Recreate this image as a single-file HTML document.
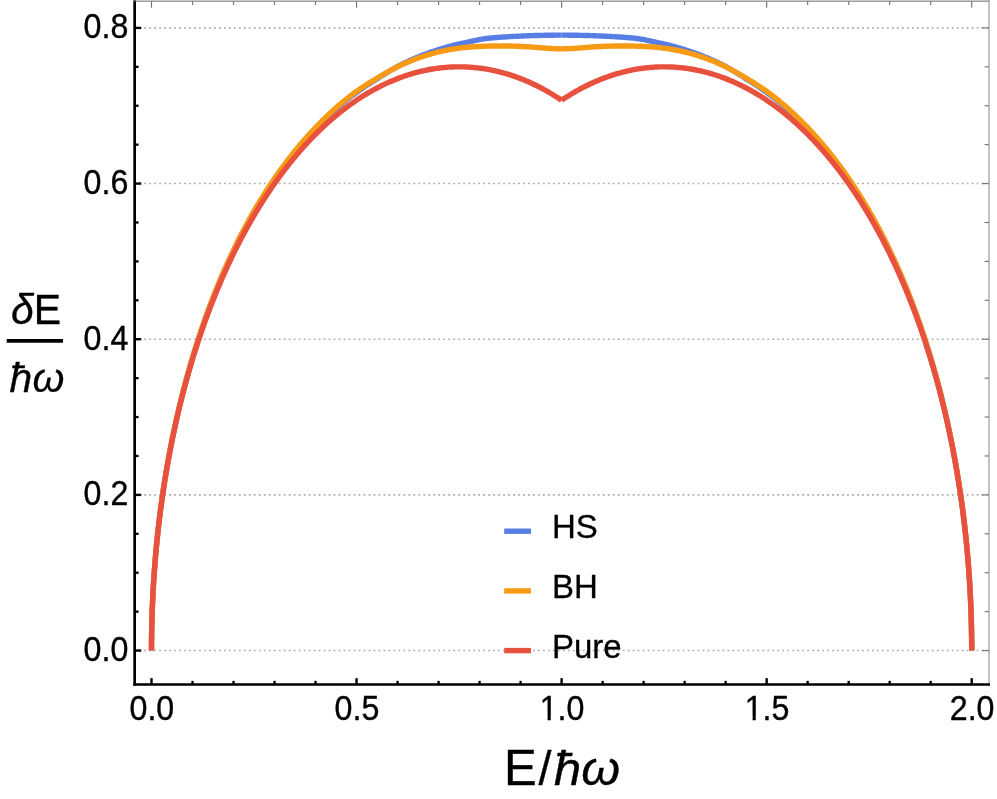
<!DOCTYPE html>
<html><head><meta charset="utf-8"><title>Plot</title>
<style>
html,body{margin:0;padding:0;background:#fff;}
body{width:997px;height:799px;overflow:hidden;font-family:"Liberation Sans",sans-serif;}
svg{display:block;}
</style></head><body>
<svg width="997" height="799" viewBox="0 0 997 799">
<rect width="997" height="799" fill="#fff"/>
<line x1="139.22" y1="650.55" x2="988" y2="650.55" stroke="#adadad" stroke-width="1.6" stroke-dasharray="1.8 3.185"/>
<line x1="139.22" y1="494.89" x2="988" y2="494.89" stroke="#adadad" stroke-width="1.6" stroke-dasharray="1.8 3.185"/>
<line x1="139.22" y1="339.23" x2="988" y2="339.23" stroke="#adadad" stroke-width="1.6" stroke-dasharray="1.8 3.185"/>
<line x1="139.22" y1="183.57" x2="988" y2="183.57" stroke="#adadad" stroke-width="1.6" stroke-dasharray="1.8 3.185"/>
<line x1="139.22" y1="27.91" x2="988" y2="27.91" stroke="#adadad" stroke-width="1.6" stroke-dasharray="1.8 3.185"/>
<path d="M151.50,650.55 L151.50,648.64 L151.51,646.73 L151.51,644.82 L151.53,642.91 L151.54,641.00 L151.56,639.09 L151.58,637.18 L151.61,635.27 L151.63,633.35 L151.66,631.44 L151.70,629.53 L151.74,627.62 L151.78,625.71 L151.82,623.80 L151.87,621.89 L151.92,619.98 L151.98,618.07 L152.03,616.16 L152.09,614.25 L152.16,612.34 L152.23,610.43 L152.30,608.52 L152.37,606.61 L152.45,604.71 L152.53,602.80 L152.61,600.89 L152.70,598.98 L152.79,597.07 L152.89,595.17 L152.98,593.26 L153.08,591.35 L153.19,589.45 L153.29,587.54 L153.40,585.64 L153.52,583.73 L153.63,581.83 L153.75,579.92 L153.88,578.02 L154.01,576.11 L154.14,574.21 L154.27,572.31 L154.41,570.41 L154.55,568.51 L154.69,566.61 L154.84,564.71 L154.99,562.81 L155.14,560.91 L155.29,559.01 L155.45,557.11 L155.62,555.21 L155.78,553.32 L155.95,551.42 L156.13,549.53 L156.30,547.63 L156.48,545.74 L156.66,543.85 L156.85,541.95 L157.04,540.06 L157.23,538.17 L157.43,536.28 L157.63,534.39 L157.83,532.50 L158.04,530.62 L158.25,528.73 L158.46,526.84 L158.67,524.96 L158.89,523.08 L159.12,521.19 L159.34,519.31 L159.57,517.43 L159.80,515.55 L160.04,513.67 L160.28,511.79 L160.52,509.92 L160.76,508.04 L161.01,506.16 L161.26,504.29 L161.52,502.42 L161.78,500.55 L162.04,498.67 L162.31,496.81 L162.57,494.94 L162.85,493.07 L163.12,491.20 L163.40,489.34 L163.68,487.47 L163.97,485.61 L164.25,483.75 L164.55,481.89 L164.84,480.03 L165.14,478.18 L165.44,476.32 L165.74,474.46 L166.05,472.61 L166.36,470.76 L166.68,468.91 L167.00,467.06 L167.32,465.21 L167.64,463.36 L167.97,461.52 L168.30,459.68 L168.64,457.83 L168.97,455.99 L169.31,454.15 L169.66,452.32 L170.01,450.48 L170.36,448.64 L170.71,446.81 L171.07,444.98 L171.43,443.15 L171.79,441.32 L172.16,439.49 L172.53,437.67 L172.90,435.85 L173.28,434.02 L173.66,432.20 L174.05,430.39 L174.43,428.57 L174.82,426.75 L175.22,424.94 L175.61,423.13 L176.01,421.32 L176.42,419.51 L176.82,417.71 L177.23,415.90 L177.65,414.10 L178.06,412.30 L178.48,410.50 L178.91,408.71 L179.33,406.91 L179.76,405.12 L180.20,403.33 L180.63,401.54 L181.07,399.75 L181.52,397.97 L181.96,396.19 L182.41,394.40 L182.87,392.63 L183.32,390.85 L183.78,389.08 L184.24,387.30 L184.71,385.53 L185.18,383.77 L185.65,382.00 L186.13,380.24 L186.61,378.47 L187.09,376.72 L187.58,374.96 L188.06,373.20 L188.56,371.45 L189.05,369.70 L189.55,367.95 L190.05,366.21 L190.56,364.46 L191.07,362.72 L191.58,360.99 L192.10,359.25 L192.62,357.52 L193.14,355.79 L193.66,354.06 L194.19,352.33 L194.72,350.61 L195.26,348.88 L195.80,347.17 L196.34,345.45 L196.88,343.74 L197.43,342.02 L197.98,340.31 L198.54,338.61 L199.10,336.90 L199.66,335.20 L200.22,333.51 L200.79,331.81 L201.36,330.12 L201.94,328.43 L202.52,326.74 L203.10,325.05 L203.68,323.37 L204.27,321.69 L204.86,320.01 L205.46,318.34 L206.05,316.67 L206.66,315.00 L207.26,313.34 L207.87,311.67 L208.48,310.02 L209.09,308.36 L209.71,306.71 L210.33,305.06 L210.96,303.41 L211.58,301.76 L212.21,300.12 L212.85,298.48 L213.49,296.85 L214.13,295.22 L214.77,293.59 L215.42,291.96 L216.07,290.34 L216.72,288.72 L217.38,287.11 L218.04,285.49 L218.70,283.88 L219.37,282.28 L220.04,280.68 L220.71,279.08 L221.39,277.48 L222.07,275.89 L222.76,274.30 L223.44,272.72 L224.13,271.14 L224.83,269.56 L225.52,267.98 L226.22,266.41 L226.93,264.85 L227.63,263.28 L228.34,261.72 L229.05,260.17 L229.77,258.61 L230.49,257.07 L231.21,255.52 L231.94,253.98 L232.67,252.44 L233.40,250.91 L234.14,249.38 L234.88,247.86 L235.62,246.34 L236.37,244.82 L237.12,243.31 L237.87,241.80 L238.63,240.29 L239.38,238.79 L240.15,237.29 L240.91,235.80 L241.68,234.31 L242.45,232.83 L243.23,231.35 L244.01,229.87 L244.79,228.40 L245.58,226.93 L246.37,225.47 L247.16,224.01 L247.95,222.55 L248.75,221.10 L249.55,219.65 L250.36,218.21 L251.17,216.77 L251.98,215.34 L252.80,213.91 L253.61,212.49 L254.44,211.07 L255.26,209.65 L256.09,208.24 L256.92,206.83 L257.76,205.43 L258.59,204.03 L259.44,202.64 L260.28,201.25 L261.13,199.86 L261.98,198.48 L262.84,197.11 L263.69,195.74 L264.56,194.37 L265.42,193.01 L266.29,191.65 L267.16,190.30 L268.03,188.95 L268.91,187.61 L269.79,186.27 L270.68,184.93 L271.56,183.61 L272.46,182.28 L273.35,180.96 L274.25,179.65 L275.15,178.34 L276.05,177.03 L276.96,175.73 L277.87,174.44 L278.79,173.15 L279.70,171.86 L280.62,170.58 L281.55,169.31 L282.47,168.04 L283.41,166.78 L284.34,165.52 L285.28,164.27 L286.22,163.02 L287.16,161.78 L288.11,160.55 L289.06,159.32 L290.01,158.09 L290.97,156.87 L291.93,155.66 L292.89,154.45 L293.86,153.25 L294.83,152.05 L295.80,150.86 L296.78,149.67 L297.76,148.49 L298.74,147.31 L299.73,146.14 L300.72,144.98 L301.71,143.82 L302.71,142.67 L303.71,141.52 L304.71,140.37 L305.72,139.24 L306.73,138.11 L307.74,136.98 L308.76,135.86 L309.77,134.74 L310.80,133.64 L311.82,132.53 L312.85,131.43 L313.89,130.34 L314.92,129.25 L315.96,128.17 L317.00,127.09 L318.05,126.02 L319.10,124.95 L320.15,123.89 L321.21,122.83 L322.27,121.78 L323.33,120.73 L324.39,119.69 L325.46,118.66 L326.53,117.63 L327.61,116.60 L328.69,115.58 L329.77,114.57 L330.86,113.57 L331.94,112.57 L333.04,111.57 L334.13,110.58 L335.23,109.60 L336.33,108.62 L337.44,107.66 L338.55,106.69 L339.66,105.74 L340.77,104.79 L341.89,103.84 L343.01,102.91 L344.14,101.98 L345.27,101.06 L346.40,100.15 L347.53,99.24 L348.67,98.34 L349.81,97.45 L350.96,96.57 L352.10,95.70 L353.26,94.83 L354.41,93.97 L355.57,93.12 L356.73,92.28 L357.89,91.45 L359.06,90.62 L360.23,89.80 L361.41,88.98 L362.58,88.18 L363.76,87.38 L364.95,86.58 L366.14,85.79 L367.33,85.01 L368.52,84.24 L369.72,83.47 L370.92,82.70 L372.12,81.93 L373.33,81.17 L374.54,80.40 L375.75,79.64 L376.97,78.87 L378.19,78.10 L379.42,77.33 L380.64,76.55 L381.87,75.78 L383.11,75.00 L384.34,74.23 L385.58,73.47 L386.83,72.71 L388.07,71.95 L389.32,71.21 L390.58,70.47 L391.83,69.74 L393.09,69.01 L394.36,68.30 L395.62,67.60 L396.89,66.91 L398.17,66.22 L399.44,65.55 L400.72,64.89 L402.01,64.24 L403.29,63.60 L404.58,62.97 L405.87,62.35 L407.17,61.74 L408.47,61.14 L409.77,60.55 L411.08,59.97 L412.39,59.39 L413.70,58.83 L415.02,58.27 L416.34,57.72 L417.66,57.18 L418.98,56.64 L420.31,56.12 L421.65,55.60 L422.98,55.08 L424.32,54.57 L425.66,54.07 L427.01,53.58 L428.36,53.09 L429.71,52.61 L431.07,52.13 L432.42,51.66 L433.79,51.20 L435.15,50.74 L436.52,50.29 L437.89,49.85 L439.27,49.41 L440.65,48.98 L442.03,48.55 L443.41,48.14 L444.80,47.73 L446.19,47.33 L447.59,46.93 L448.99,46.55 L450.39,46.17 L451.79,45.80 L453.20,45.44 L454.61,45.08 L456.03,44.74 L457.44,44.40 L458.87,44.07 L460.29,43.75 L461.72,43.44 L463.15,43.13 L464.58,42.83 L466.02,42.52 L467.46,42.21 L468.91,41.90 L470.36,41.57 L471.81,41.25 L473.26,40.92 L474.72,40.59 L476.18,40.27 L477.64,39.97 L479.11,39.67 L480.58,39.40 L482.06,39.15 L483.53,38.92 L485.01,38.70 L486.50,38.50 L487.98,38.32 L489.48,38.15 L490.97,38.00 L492.47,37.85 L493.97,37.72 L495.47,37.59 L496.98,37.48 L498.49,37.36 L500.00,37.26 L501.52,37.15 L503.04,37.05 L504.56,36.95 L506.09,36.85 L507.62,36.76 L509.15,36.67 L510.69,36.58 L512.23,36.50 L513.77,36.42 L515.32,36.34 L516.87,36.26 L518.42,36.18 L519.98,36.11 L521.54,36.04 L523.10,35.97 L524.67,35.91 L526.24,35.84 L527.81,35.78 L529.39,35.73 L530.96,35.67 L532.55,35.62 L534.13,35.57 L535.72,35.52 L537.32,35.48 L538.91,35.43 L540.51,35.40 L542.11,35.36 L543.72,35.33 L545.33,35.29 L546.94,35.27 L548.56,35.24 L550.17,35.22 L551.80,35.20 L553.42,35.19 L555.05,35.17 L556.68,35.16 L558.32,35.15 L559.96,35.15 L561.60,35.15" fill="none" stroke="#587de5" stroke-width="5.4" stroke-linejoin="round" stroke-linecap="butt"/>
<path d="M561.60,35.15 L563.24,35.15 L564.88,35.15 L566.52,35.16 L568.15,35.17 L569.78,35.19 L571.40,35.20 L573.03,35.22 L574.64,35.24 L576.26,35.27 L577.87,35.29 L579.48,35.33 L581.09,35.36 L582.69,35.40 L584.29,35.43 L585.88,35.48 L587.48,35.52 L589.07,35.57 L590.65,35.62 L592.24,35.67 L593.81,35.73 L595.39,35.78 L596.96,35.84 L598.53,35.91 L600.10,35.97 L601.66,36.04 L603.22,36.11 L604.78,36.18 L606.33,36.26 L607.88,36.34 L609.43,36.42 L610.97,36.50 L612.51,36.58 L614.05,36.67 L615.58,36.76 L617.11,36.85 L618.64,36.95 L620.16,37.05 L621.68,37.15 L623.20,37.26 L624.71,37.36 L626.22,37.48 L627.73,37.59 L629.23,37.72 L630.73,37.85 L632.23,38.00 L633.72,38.15 L635.22,38.32 L636.70,38.50 L638.19,38.70 L639.67,38.92 L641.14,39.15 L642.62,39.40 L644.09,39.67 L645.56,39.97 L647.02,40.27 L648.48,40.59 L649.94,40.92 L651.39,41.25 L652.84,41.57 L654.29,41.90 L655.74,42.21 L657.18,42.52 L658.62,42.83 L660.05,43.13 L661.48,43.44 L662.91,43.75 L664.33,44.07 L665.76,44.40 L667.17,44.74 L668.59,45.08 L670.00,45.44 L671.41,45.80 L672.81,46.17 L674.21,46.55 L675.61,46.93 L677.01,47.33 L678.40,47.73 L679.79,48.14 L681.17,48.55 L682.55,48.98 L683.93,49.41 L685.31,49.85 L686.68,50.29 L688.05,50.74 L689.41,51.20 L690.78,51.66 L692.13,52.13 L693.49,52.61 L694.84,53.09 L696.19,53.58 L697.54,54.07 L698.88,54.57 L700.22,55.08 L701.55,55.60 L702.89,56.12 L704.22,56.64 L705.54,57.18 L706.86,57.72 L708.18,58.27 L709.50,58.83 L710.81,59.39 L712.12,59.97 L713.43,60.55 L714.73,61.14 L716.03,61.74 L717.33,62.35 L718.62,62.97 L719.91,63.60 L721.19,64.24 L722.48,64.89 L723.76,65.55 L725.03,66.22 L726.31,66.91 L727.58,67.60 L728.84,68.30 L730.11,69.01 L731.37,69.74 L732.62,70.47 L733.88,71.21 L735.13,71.95 L736.37,72.71 L737.62,73.47 L738.86,74.23 L740.09,75.00 L741.33,75.78 L742.56,76.55 L743.78,77.33 L745.01,78.10 L746.23,78.87 L747.45,79.64 L748.66,80.40 L749.87,81.17 L751.08,81.93 L752.28,82.70 L753.48,83.47 L754.68,84.24 L755.87,85.01 L757.06,85.79 L758.25,86.58 L759.44,87.38 L760.62,88.18 L761.79,88.98 L762.97,89.80 L764.14,90.62 L765.31,91.45 L766.47,92.28 L767.63,93.12 L768.79,93.97 L769.94,94.83 L771.10,95.70 L772.24,96.57 L773.39,97.45 L774.53,98.34 L775.67,99.24 L776.80,100.15 L777.93,101.06 L779.06,101.98 L780.19,102.91 L781.31,103.84 L782.43,104.79 L783.54,105.74 L784.65,106.69 L785.76,107.66 L786.87,108.62 L787.97,109.60 L789.07,110.58 L790.16,111.57 L791.26,112.57 L792.34,113.57 L793.43,114.57 L794.51,115.58 L795.59,116.60 L796.67,117.63 L797.74,118.66 L798.81,119.69 L799.87,120.73 L800.93,121.78 L801.99,122.83 L803.05,123.89 L804.10,124.95 L805.15,126.02 L806.20,127.09 L807.24,128.17 L808.28,129.25 L809.31,130.34 L810.35,131.43 L811.38,132.53 L812.40,133.64 L813.43,134.74 L814.44,135.86 L815.46,136.98 L816.47,138.11 L817.48,139.24 L818.49,140.37 L819.49,141.52 L820.49,142.67 L821.49,143.82 L822.48,144.98 L823.47,146.14 L824.46,147.31 L825.44,148.49 L826.42,149.67 L827.40,150.86 L828.37,152.05 L829.34,153.25 L830.31,154.45 L831.27,155.66 L832.23,156.87 L833.19,158.09 L834.14,159.32 L835.09,160.55 L836.04,161.78 L836.98,163.02 L837.92,164.27 L838.86,165.52 L839.79,166.78 L840.73,168.04 L841.65,169.31 L842.58,170.58 L843.50,171.86 L844.41,173.15 L845.33,174.44 L846.24,175.73 L847.15,177.03 L848.05,178.34 L848.95,179.65 L849.85,180.96 L850.74,182.28 L851.64,183.61 L852.52,184.93 L853.41,186.27 L854.29,187.61 L855.17,188.95 L856.04,190.30 L856.91,191.65 L857.78,193.01 L858.64,194.37 L859.51,195.74 L860.36,197.11 L861.22,198.48 L862.07,199.86 L862.92,201.25 L863.76,202.64 L864.61,204.03 L865.44,205.43 L866.28,206.83 L867.11,208.24 L867.94,209.65 L868.76,211.07 L869.59,212.49 L870.40,213.91 L871.22,215.34 L872.03,216.77 L872.84,218.21 L873.65,219.65 L874.45,221.10 L875.25,222.55 L876.04,224.01 L876.83,225.47 L877.62,226.93 L878.41,228.40 L879.19,229.87 L879.97,231.35 L880.75,232.83 L881.52,234.31 L882.29,235.80 L883.05,237.29 L883.82,238.79 L884.57,240.29 L885.33,241.80 L886.08,243.31 L886.83,244.82 L887.58,246.34 L888.32,247.86 L889.06,249.38 L889.80,250.91 L890.53,252.44 L891.26,253.98 L891.99,255.52 L892.71,257.07 L893.43,258.61 L894.15,260.17 L894.86,261.72 L895.57,263.28 L896.27,264.85 L896.98,266.41 L897.68,267.98 L898.37,269.56 L899.07,271.14 L899.76,272.72 L900.44,274.30 L901.13,275.89 L901.81,277.48 L902.49,279.08 L903.16,280.68 L903.83,282.28 L904.50,283.88 L905.16,285.49 L905.82,287.11 L906.48,288.72 L907.13,290.34 L907.78,291.96 L908.43,293.59 L909.07,295.22 L909.71,296.85 L910.35,298.48 L910.99,300.12 L911.62,301.76 L912.24,303.41 L912.87,305.06 L913.49,306.71 L914.11,308.36 L914.72,310.02 L915.33,311.67 L915.94,313.34 L916.54,315.00 L917.15,316.67 L917.74,318.34 L918.34,320.01 L918.93,321.69 L919.52,323.37 L920.10,325.05 L920.68,326.74 L921.26,328.43 L921.84,330.12 L922.41,331.81 L922.98,333.51 L923.54,335.20 L924.10,336.90 L924.66,338.61 L925.22,340.31 L925.77,342.02 L926.32,343.74 L926.86,345.45 L927.40,347.17 L927.94,348.88 L928.48,350.61 L929.01,352.33 L929.54,354.06 L930.06,355.79 L930.58,357.52 L931.10,359.25 L931.62,360.99 L932.13,362.72 L932.64,364.46 L933.15,366.21 L933.65,367.95 L934.15,369.70 L934.64,371.45 L935.14,373.20 L935.62,374.96 L936.11,376.72 L936.59,378.47 L937.07,380.24 L937.55,382.00 L938.02,383.77 L938.49,385.53 L938.96,387.30 L939.42,389.08 L939.88,390.85 L940.33,392.63 L940.79,394.40 L941.24,396.19 L941.68,397.97 L942.13,399.75 L942.57,401.54 L943.00,403.33 L943.44,405.12 L943.87,406.91 L944.29,408.71 L944.72,410.50 L945.14,412.30 L945.55,414.10 L945.97,415.90 L946.38,417.71 L946.78,419.51 L947.19,421.32 L947.59,423.13 L947.98,424.94 L948.38,426.75 L948.77,428.57 L949.15,430.39 L949.54,432.20 L949.92,434.02 L950.30,435.85 L950.67,437.67 L951.04,439.49 L951.41,441.32 L951.77,443.15 L952.13,444.98 L952.49,446.81 L952.84,448.64 L953.19,450.48 L953.54,452.32 L953.89,454.15 L954.23,455.99 L954.56,457.83 L954.90,459.68 L955.23,461.52 L955.56,463.36 L955.88,465.21 L956.20,467.06 L956.52,468.91 L956.84,470.76 L957.15,472.61 L957.46,474.46 L957.76,476.32 L958.06,478.18 L958.36,480.03 L958.65,481.89 L958.95,483.75 L959.23,485.61 L959.52,487.47 L959.80,489.34 L960.08,491.20 L960.35,493.07 L960.63,494.94 L960.89,496.81 L961.16,498.67 L961.42,500.55 L961.68,502.42 L961.94,504.29 L962.19,506.16 L962.44,508.04 L962.68,509.92 L962.92,511.79 L963.16,513.67 L963.40,515.55 L963.63,517.43 L963.86,519.31 L964.08,521.19 L964.31,523.08 L964.53,524.96 L964.74,526.84 L964.95,528.73 L965.16,530.62 L965.37,532.50 L965.57,534.39 L965.77,536.28 L965.97,538.17 L966.16,540.06 L966.35,541.95 L966.54,543.85 L966.72,545.74 L966.90,547.63 L967.07,549.53 L967.25,551.42 L967.42,553.32 L967.58,555.21 L967.75,557.11 L967.91,559.01 L968.06,560.91 L968.21,562.81 L968.36,564.71 L968.51,566.61 L968.65,568.51 L968.79,570.41 L968.93,572.31 L969.06,574.21 L969.19,576.11 L969.32,578.02 L969.45,579.92 L969.57,581.83 L969.68,583.73 L969.80,585.64 L969.91,587.54 L970.01,589.45 L970.12,591.35 L970.22,593.26 L970.31,595.17 L970.41,597.07 L970.50,598.98 L970.59,600.89 L970.67,602.80 L970.75,604.71 L970.83,606.61 L970.90,608.52 L970.97,610.43 L971.04,612.34 L971.11,614.25 L971.17,616.16 L971.22,618.07 L971.28,619.98 L971.33,621.89 L971.38,623.80 L971.42,625.71 L971.46,627.62 L971.50,629.53 L971.54,631.44 L971.57,633.35 L971.59,635.27 L971.62,637.18 L971.64,639.09 L971.66,641.00 L971.67,642.91 L971.69,644.82 L971.69,646.73 L971.70,648.64 L971.70,650.55" fill="none" stroke="#587de5" stroke-width="5.4" stroke-linejoin="round" stroke-linecap="butt"/>
<path d="M151.50,650.55 L151.50,648.64 L151.51,646.73 L151.51,644.82 L151.53,642.91 L151.54,641.00 L151.56,639.09 L151.58,637.18 L151.61,635.26 L151.63,633.35 L151.66,631.44 L151.70,629.53 L151.74,627.62 L151.78,625.71 L151.82,623.80 L151.87,621.89 L151.92,619.98 L151.98,618.07 L152.03,616.16 L152.09,614.25 L152.16,612.34 L152.23,610.43 L152.30,608.52 L152.37,606.61 L152.45,604.70 L152.53,602.79 L152.61,600.88 L152.70,598.97 L152.79,597.07 L152.89,595.16 L152.98,593.25 L153.08,591.34 L153.19,589.44 L153.29,587.53 L153.40,585.62 L153.52,583.72 L153.63,581.81 L153.75,579.91 L153.88,578.00 L154.01,576.10 L154.14,574.20 L154.27,572.29 L154.41,570.39 L154.55,568.49 L154.69,566.59 L154.84,564.69 L154.99,562.78 L155.14,560.88 L155.29,558.99 L155.45,557.09 L155.62,555.19 L155.78,553.29 L155.95,551.39 L156.13,549.50 L156.30,547.60 L156.48,545.71 L156.66,543.81 L156.85,541.92 L157.04,540.03 L157.23,538.14 L157.43,536.25 L157.63,534.36 L157.83,532.47 L158.04,530.58 L158.25,528.69 L158.46,526.80 L158.67,524.92 L158.89,523.03 L159.12,521.15 L159.34,519.26 L159.57,517.38 L159.80,515.50 L160.04,513.62 L160.28,511.74 L160.52,509.86 L160.76,507.98 L161.01,506.11 L161.26,504.23 L161.52,502.36 L161.78,500.48 L162.04,498.61 L162.31,496.74 L162.57,494.87 L162.85,493.00 L163.12,491.13 L163.40,489.27 L163.68,487.40 L163.97,485.54 L164.25,483.67 L164.55,481.81 L164.84,479.95 L165.14,478.09 L165.44,476.24 L165.74,474.38 L166.05,472.52 L166.36,470.67 L166.68,468.82 L167.00,466.97 L167.32,465.12 L167.64,463.27 L167.97,461.42 L168.30,459.57 L168.64,457.73 L168.97,455.89 L169.31,454.05 L169.66,452.21 L170.01,450.37 L170.36,448.53 L170.71,446.70 L171.07,444.86 L171.43,443.03 L171.79,441.20 L172.16,439.37 L172.53,437.54 L172.90,435.72 L173.28,433.89 L173.66,432.07 L174.05,430.25 L174.43,428.43 L174.82,426.62 L175.22,424.80 L175.61,422.99 L176.01,421.17 L176.42,419.36 L176.82,417.56 L177.23,415.75 L177.65,413.95 L178.06,412.14 L178.48,410.34 L178.91,408.54 L179.33,406.75 L179.76,404.95 L180.20,403.16 L180.63,401.37 L181.07,399.58 L181.52,397.79 L181.96,396.00 L182.41,394.22 L182.87,392.44 L183.32,390.66 L183.78,388.88 L184.24,387.11 L184.71,385.34 L185.18,383.57 L185.65,381.80 L186.13,380.03 L186.61,378.27 L187.09,376.50 L187.58,374.74 L188.06,372.99 L188.56,371.23 L189.05,369.48 L189.55,367.73 L190.05,365.98 L190.56,364.23 L191.07,362.49 L191.58,360.75 L192.10,359.01 L192.62,357.27 L193.14,355.54 L193.66,353.81 L194.19,352.08 L194.72,350.35 L195.26,348.63 L195.80,346.90 L196.34,345.18 L196.88,343.47 L197.43,341.75 L197.98,340.04 L198.54,338.33 L199.10,336.62 L199.66,334.92 L200.22,333.22 L200.79,331.52 L201.36,329.82 L201.94,328.13 L202.52,326.44 L203.10,324.75 L203.68,323.06 L204.27,321.38 L204.86,319.70 L205.46,318.02 L206.05,316.35 L206.66,314.68 L207.26,313.01 L207.87,311.34 L208.48,309.68 L209.09,308.02 L209.71,306.36 L210.33,304.71 L210.96,303.06 L211.58,301.41 L212.21,299.77 L212.85,298.13 L213.49,296.49 L214.13,294.85 L214.77,293.22 L215.42,291.59 L216.07,289.96 L216.72,288.34 L217.38,286.72 L218.04,285.11 L218.70,283.49 L219.37,281.88 L220.04,280.28 L220.71,278.67 L221.39,277.07 L222.07,275.48 L222.76,273.89 L223.44,272.30 L224.13,270.71 L224.83,269.13 L225.52,267.55 L226.22,265.98 L226.93,264.41 L227.63,262.84 L228.34,261.28 L229.05,259.72 L229.77,258.16 L230.49,256.61 L231.21,255.06 L231.94,253.51 L232.67,251.97 L233.40,250.44 L234.14,248.90 L234.88,247.37 L235.62,245.85 L236.37,244.33 L237.12,242.81 L237.87,241.30 L238.63,239.79 L239.38,238.28 L240.15,236.78 L240.91,235.28 L241.68,233.79 L242.45,232.30 L243.23,230.82 L244.01,229.34 L244.79,227.86 L245.58,226.39 L246.37,224.92 L247.16,223.46 L247.95,222.00 L248.75,220.54 L249.55,219.09 L250.36,217.64 L251.17,216.20 L251.98,214.76 L252.80,213.33 L253.61,211.90 L254.44,210.47 L255.26,209.05 L256.09,207.64 L256.92,206.23 L257.76,204.82 L258.59,203.42 L259.44,202.02 L260.28,200.62 L261.13,199.23 L261.98,197.85 L262.84,196.47 L263.69,195.09 L264.56,193.72 L265.42,192.36 L266.29,190.99 L267.16,189.64 L268.03,188.28 L268.91,186.94 L269.79,185.59 L270.68,184.26 L271.56,182.92 L272.46,181.59 L273.35,180.27 L274.25,178.95 L275.15,177.63 L276.05,176.32 L276.96,175.02 L277.87,173.72 L278.79,172.42 L279.70,171.13 L280.62,169.85 L281.55,168.57 L282.47,167.30 L283.41,166.03 L284.34,164.76 L285.28,163.51 L286.22,162.25 L287.16,161.00 L288.11,159.76 L289.06,158.53 L290.01,157.29 L290.97,156.07 L291.93,154.85 L292.89,153.63 L293.86,152.42 L294.83,151.22 L295.80,150.02 L296.78,148.83 L297.76,147.64 L298.74,146.46 L299.73,145.28 L300.72,144.11 L301.71,142.94 L302.71,141.78 L303.71,140.63 L304.71,139.48 L305.72,138.33 L306.73,137.20 L307.74,136.06 L308.76,134.94 L309.77,133.82 L310.80,132.70 L311.82,131.59 L312.85,130.48 L313.89,129.38 L314.92,128.29 L315.96,127.20 L317.00,126.12 L318.05,125.04 L319.10,123.96 L320.15,122.89 L321.21,121.83 L322.27,120.77 L323.33,119.72 L324.39,118.68 L325.46,117.63 L326.53,116.60 L327.61,115.57 L328.69,114.55 L329.77,113.53 L330.86,112.52 L331.94,111.51 L333.04,110.52 L334.13,109.52 L335.23,108.54 L336.33,107.56 L337.44,106.58 L338.55,105.62 L339.66,104.66 L340.77,103.71 L341.89,102.76 L343.01,101.82 L344.14,100.89 L345.27,99.97 L346.40,99.06 L347.53,98.15 L348.67,97.25 L349.81,96.37 L350.96,95.49 L352.10,94.62 L353.26,93.76 L354.41,92.90 L355.57,92.06 L356.73,91.23 L357.89,90.41 L359.06,89.60 L360.23,88.80 L361.41,88.00 L362.58,87.22 L363.76,86.44 L364.95,85.67 L366.14,84.91 L367.33,84.15 L368.52,83.40 L369.72,82.65 L370.92,81.91 L372.12,81.17 L373.33,80.44 L374.54,79.70 L375.75,78.97 L376.97,78.25 L378.19,77.52 L379.42,76.79 L380.64,76.07 L381.87,75.35 L383.11,74.63 L384.34,73.91 L385.58,73.20 L386.83,72.50 L388.07,71.80 L389.32,71.11 L390.58,70.42 L391.83,69.74 L393.09,69.07 L394.36,68.41 L395.62,67.75 L396.89,67.11 L398.17,66.48 L399.44,65.86 L400.72,65.25 L402.01,64.65 L403.29,64.06 L404.58,63.48 L405.87,62.92 L407.17,62.36 L408.47,61.81 L409.77,61.27 L411.08,60.74 L412.39,60.23 L413.70,59.72 L415.02,59.22 L416.34,58.73 L417.66,58.24 L418.98,57.77 L420.31,57.30 L421.65,56.85 L422.98,56.40 L424.32,55.96 L425.66,55.53 L427.01,55.11 L428.36,54.69 L429.71,54.29 L431.07,53.90 L432.42,53.52 L433.79,53.14 L435.15,52.78 L436.52,52.43 L437.89,52.09 L439.27,51.75 L440.65,51.43 L442.03,51.12 L443.41,50.82 L444.80,50.53 L446.19,50.25 L447.59,49.98 L448.99,49.72 L450.39,49.48 L451.79,49.24 L453.20,49.01 L454.61,48.79 L456.03,48.58 L457.44,48.38 L458.87,48.19 L460.29,48.01 L461.72,47.84 L463.15,47.68 L464.58,47.53 L466.02,47.38 L467.46,47.25 L468.91,47.12 L470.36,47.00 L471.81,46.89 L473.26,46.79 L474.72,46.69 L476.18,46.60 L477.64,46.52 L479.11,46.44 L480.58,46.37 L482.06,46.31 L483.53,46.25 L485.01,46.20 L486.50,46.16 L487.98,46.12 L489.48,46.08 L490.97,46.05 L492.47,46.03 L493.97,46.00 L495.47,45.99 L496.98,45.98 L498.49,45.97 L500.00,45.97 L501.52,45.97 L503.04,45.97 L504.56,45.98 L506.09,45.99 L507.62,46.01 L509.15,46.03 L510.69,46.06 L512.23,46.10 L513.77,46.14 L515.32,46.18 L516.87,46.24 L518.42,46.30 L519.98,46.37 L521.54,46.44 L523.10,46.52 L524.67,46.61 L526.24,46.71 L527.81,46.81 L529.39,46.92 L530.96,47.03 L532.55,47.14 L534.13,47.26 L535.72,47.39 L537.32,47.51 L538.91,47.63 L540.51,47.76 L542.11,47.88 L543.72,48.00 L545.33,48.12 L546.94,48.24 L548.56,48.35 L550.17,48.45 L551.80,48.55 L553.42,48.63 L555.05,48.71 L556.68,48.76 L558.32,48.81 L559.96,48.84 L561.60,48.85 L561.60,48.85 L563.24,48.84 L564.88,48.81 L566.52,48.76 L568.15,48.71 L569.78,48.63 L571.40,48.55 L573.03,48.45 L574.64,48.35 L576.26,48.24 L577.87,48.12 L579.48,48.00 L581.09,47.88 L582.69,47.76 L584.29,47.63 L585.88,47.51 L587.48,47.39 L589.07,47.26 L590.65,47.14 L592.24,47.03 L593.81,46.92 L595.39,46.81 L596.96,46.71 L598.53,46.61 L600.10,46.52 L601.66,46.44 L603.22,46.37 L604.78,46.30 L606.33,46.24 L607.88,46.18 L609.43,46.14 L610.97,46.10 L612.51,46.06 L614.05,46.03 L615.58,46.01 L617.11,45.99 L618.64,45.98 L620.16,45.97 L621.68,45.97 L623.20,45.97 L624.71,45.97 L626.22,45.98 L627.73,45.99 L629.23,46.00 L630.73,46.03 L632.23,46.05 L633.72,46.08 L635.22,46.12 L636.70,46.16 L638.19,46.20 L639.67,46.25 L641.14,46.31 L642.62,46.37 L644.09,46.44 L645.56,46.52 L647.02,46.60 L648.48,46.69 L649.94,46.79 L651.39,46.89 L652.84,47.00 L654.29,47.12 L655.74,47.25 L657.18,47.38 L658.62,47.53 L660.05,47.68 L661.48,47.84 L662.91,48.01 L664.33,48.19 L665.76,48.38 L667.17,48.58 L668.59,48.79 L670.00,49.01 L671.41,49.24 L672.81,49.48 L674.21,49.72 L675.61,49.98 L677.01,50.25 L678.40,50.53 L679.79,50.82 L681.17,51.12 L682.55,51.43 L683.93,51.75 L685.31,52.09 L686.68,52.43 L688.05,52.78 L689.41,53.14 L690.78,53.52 L692.13,53.90 L693.49,54.29 L694.84,54.69 L696.19,55.11 L697.54,55.53 L698.88,55.96 L700.22,56.40 L701.55,56.85 L702.89,57.30 L704.22,57.77 L705.54,58.24 L706.86,58.73 L708.18,59.22 L709.50,59.72 L710.81,60.23 L712.12,60.74 L713.43,61.27 L714.73,61.81 L716.03,62.36 L717.33,62.92 L718.62,63.48 L719.91,64.06 L721.19,64.65 L722.48,65.25 L723.76,65.86 L725.03,66.48 L726.31,67.11 L727.58,67.75 L728.84,68.41 L730.11,69.07 L731.37,69.74 L732.62,70.42 L733.88,71.11 L735.13,71.80 L736.37,72.50 L737.62,73.20 L738.86,73.91 L740.09,74.63 L741.33,75.35 L742.56,76.07 L743.78,76.79 L745.01,77.52 L746.23,78.25 L747.45,78.97 L748.66,79.70 L749.87,80.44 L751.08,81.17 L752.28,81.91 L753.48,82.65 L754.68,83.40 L755.87,84.15 L757.06,84.91 L758.25,85.67 L759.44,86.44 L760.62,87.22 L761.79,88.00 L762.97,88.80 L764.14,89.60 L765.31,90.41 L766.47,91.23 L767.63,92.06 L768.79,92.90 L769.94,93.76 L771.10,94.62 L772.24,95.49 L773.39,96.37 L774.53,97.25 L775.67,98.15 L776.80,99.06 L777.93,99.97 L779.06,100.89 L780.19,101.82 L781.31,102.76 L782.43,103.71 L783.54,104.66 L784.65,105.62 L785.76,106.58 L786.87,107.56 L787.97,108.54 L789.07,109.52 L790.16,110.52 L791.26,111.51 L792.34,112.52 L793.43,113.53 L794.51,114.55 L795.59,115.57 L796.67,116.60 L797.74,117.63 L798.81,118.68 L799.87,119.72 L800.93,120.77 L801.99,121.83 L803.05,122.89 L804.10,123.96 L805.15,125.04 L806.20,126.12 L807.24,127.20 L808.28,128.29 L809.31,129.38 L810.35,130.48 L811.38,131.59 L812.40,132.70 L813.43,133.82 L814.44,134.94 L815.46,136.06 L816.47,137.20 L817.48,138.33 L818.49,139.48 L819.49,140.63 L820.49,141.78 L821.49,142.94 L822.48,144.11 L823.47,145.28 L824.46,146.46 L825.44,147.64 L826.42,148.83 L827.40,150.02 L828.37,151.22 L829.34,152.42 L830.31,153.63 L831.27,154.85 L832.23,156.07 L833.19,157.29 L834.14,158.53 L835.09,159.76 L836.04,161.00 L836.98,162.25 L837.92,163.51 L838.86,164.76 L839.79,166.03 L840.73,167.30 L841.65,168.57 L842.58,169.85 L843.50,171.13 L844.41,172.42 L845.33,173.72 L846.24,175.02 L847.15,176.32 L848.05,177.63 L848.95,178.95 L849.85,180.27 L850.74,181.59 L851.64,182.92 L852.52,184.26 L853.41,185.59 L854.29,186.94 L855.17,188.28 L856.04,189.64 L856.91,190.99 L857.78,192.36 L858.64,193.72 L859.51,195.09 L860.36,196.47 L861.22,197.85 L862.07,199.23 L862.92,200.62 L863.76,202.02 L864.61,203.42 L865.44,204.82 L866.28,206.23 L867.11,207.64 L867.94,209.05 L868.76,210.47 L869.59,211.90 L870.40,213.33 L871.22,214.76 L872.03,216.20 L872.84,217.64 L873.65,219.09 L874.45,220.54 L875.25,222.00 L876.04,223.46 L876.83,224.92 L877.62,226.39 L878.41,227.86 L879.19,229.34 L879.97,230.82 L880.75,232.30 L881.52,233.79 L882.29,235.28 L883.05,236.78 L883.82,238.28 L884.57,239.79 L885.33,241.30 L886.08,242.81 L886.83,244.33 L887.58,245.85 L888.32,247.37 L889.06,248.90 L889.80,250.44 L890.53,251.97 L891.26,253.51 L891.99,255.06 L892.71,256.61 L893.43,258.16 L894.15,259.72 L894.86,261.28 L895.57,262.84 L896.27,264.41 L896.98,265.98 L897.68,267.55 L898.37,269.13 L899.07,270.71 L899.76,272.30 L900.44,273.89 L901.13,275.48 L901.81,277.07 L902.49,278.67 L903.16,280.28 L903.83,281.88 L904.50,283.49 L905.16,285.11 L905.82,286.72 L906.48,288.34 L907.13,289.96 L907.78,291.59 L908.43,293.22 L909.07,294.85 L909.71,296.49 L910.35,298.13 L910.99,299.77 L911.62,301.41 L912.24,303.06 L912.87,304.71 L913.49,306.36 L914.11,308.02 L914.72,309.68 L915.33,311.34 L915.94,313.01 L916.54,314.68 L917.15,316.35 L917.74,318.02 L918.34,319.70 L918.93,321.38 L919.52,323.06 L920.10,324.75 L920.68,326.44 L921.26,328.13 L921.84,329.82 L922.41,331.52 L922.98,333.22 L923.54,334.92 L924.10,336.62 L924.66,338.33 L925.22,340.04 L925.77,341.75 L926.32,343.47 L926.86,345.18 L927.40,346.90 L927.94,348.63 L928.48,350.35 L929.01,352.08 L929.54,353.81 L930.06,355.54 L930.58,357.27 L931.10,359.01 L931.62,360.75 L932.13,362.49 L932.64,364.23 L933.15,365.98 L933.65,367.73 L934.15,369.48 L934.64,371.23 L935.14,372.99 L935.62,374.74 L936.11,376.50 L936.59,378.27 L937.07,380.03 L937.55,381.80 L938.02,383.57 L938.49,385.34 L938.96,387.11 L939.42,388.88 L939.88,390.66 L940.33,392.44 L940.79,394.22 L941.24,396.00 L941.68,397.79 L942.13,399.58 L942.57,401.37 L943.00,403.16 L943.44,404.95 L943.87,406.75 L944.29,408.54 L944.72,410.34 L945.14,412.14 L945.55,413.95 L945.97,415.75 L946.38,417.56 L946.78,419.36 L947.19,421.17 L947.59,422.99 L947.98,424.80 L948.38,426.62 L948.77,428.43 L949.15,430.25 L949.54,432.07 L949.92,433.89 L950.30,435.72 L950.67,437.54 L951.04,439.37 L951.41,441.20 L951.77,443.03 L952.13,444.86 L952.49,446.70 L952.84,448.53 L953.19,450.37 L953.54,452.21 L953.89,454.05 L954.23,455.89 L954.56,457.73 L954.90,459.57 L955.23,461.42 L955.56,463.27 L955.88,465.12 L956.20,466.97 L956.52,468.82 L956.84,470.67 L957.15,472.52 L957.46,474.38 L957.76,476.24 L958.06,478.09 L958.36,479.95 L958.65,481.81 L958.95,483.67 L959.23,485.54 L959.52,487.40 L959.80,489.27 L960.08,491.13 L960.35,493.00 L960.63,494.87 L960.89,496.74 L961.16,498.61 L961.42,500.48 L961.68,502.36 L961.94,504.23 L962.19,506.11 L962.44,507.98 L962.68,509.86 L962.92,511.74 L963.16,513.62 L963.40,515.50 L963.63,517.38 L963.86,519.26 L964.08,521.15 L964.31,523.03 L964.53,524.92 L964.74,526.80 L964.95,528.69 L965.16,530.58 L965.37,532.47 L965.57,534.36 L965.77,536.25 L965.97,538.14 L966.16,540.03 L966.35,541.92 L966.54,543.81 L966.72,545.71 L966.90,547.60 L967.07,549.50 L967.25,551.39 L967.42,553.29 L967.58,555.19 L967.75,557.09 L967.91,558.99 L968.06,560.88 L968.21,562.78 L968.36,564.69 L968.51,566.59 L968.65,568.49 L968.79,570.39 L968.93,572.29 L969.06,574.20 L969.19,576.10 L969.32,578.00 L969.45,579.91 L969.57,581.81 L969.68,583.72 L969.80,585.62 L969.91,587.53 L970.01,589.44 L970.12,591.34 L970.22,593.25 L970.31,595.16 L970.41,597.07 L970.50,598.97 L970.59,600.88 L970.67,602.79 L970.75,604.70 L970.83,606.61 L970.90,608.52 L970.97,610.43 L971.04,612.34 L971.11,614.25 L971.17,616.16 L971.22,618.07 L971.28,619.98 L971.33,621.89 L971.38,623.80 L971.42,625.71 L971.46,627.62 L971.50,629.53 L971.54,631.44 L971.57,633.35 L971.59,635.26 L971.62,637.18 L971.64,639.09 L971.66,641.00 L971.67,642.91 L971.69,644.82 L971.69,646.73 L971.70,648.64 L971.70,650.55" fill="none" stroke="#f79b15" stroke-width="5.4" stroke-linejoin="round" stroke-linecap="butt"/>
<path d="M151.50,650.55 L151.50,648.64 L151.51,646.73 L151.51,644.82 L151.53,642.91 L151.54,641.00 L151.56,639.09 L151.58,637.18 L151.61,635.27 L151.63,633.36 L151.66,631.45 L151.70,629.54 L151.74,627.63 L151.78,625.72 L151.82,623.81 L151.87,621.90 L151.92,620.00 L151.98,618.09 L152.03,616.18 L152.09,614.27 L152.16,612.37 L152.23,610.46 L152.30,608.55 L152.37,606.65 L152.45,604.74 L152.53,602.83 L152.61,600.93 L152.70,599.02 L152.79,597.12 L152.89,595.21 L152.98,593.31 L153.08,591.41 L153.19,589.51 L153.29,587.60 L153.40,585.70 L153.52,583.80 L153.63,581.90 L153.75,580.00 L153.88,578.10 L154.01,576.20 L154.14,574.30 L154.27,572.41 L154.41,570.51 L154.55,568.61 L154.69,566.72 L154.84,564.82 L154.99,562.93 L155.14,561.03 L155.29,559.14 L155.45,557.25 L155.62,555.36 L155.78,553.47 L155.95,551.58 L156.13,549.69 L156.30,547.80 L156.48,545.91 L156.66,544.03 L156.85,542.14 L157.04,540.26 L157.23,538.37 L157.43,536.49 L157.63,534.61 L157.83,532.73 L158.04,530.84 L158.25,528.97 L158.46,527.09 L158.67,525.21 L158.89,523.33 L159.12,521.46 L159.34,519.58 L159.57,517.71 L159.80,515.84 L160.04,513.97 L160.28,512.10 L160.52,510.23 L160.76,508.36 L161.01,506.50 L161.26,504.63 L161.52,502.77 L161.78,500.91 L162.04,499.04 L162.31,497.18 L162.57,495.33 L162.85,493.47 L163.12,491.61 L163.40,489.76 L163.68,487.90 L163.97,486.05 L164.25,484.20 L164.55,482.35 L164.84,480.50 L165.14,478.65 L165.44,476.81 L165.74,474.96 L166.05,473.12 L166.36,471.28 L166.68,469.44 L167.00,467.60 L167.32,465.77 L167.64,463.93 L167.97,462.10 L168.30,460.27 L168.64,458.44 L168.97,456.61 L169.31,454.78 L169.66,452.96 L170.01,451.13 L170.36,449.31 L170.71,447.49 L171.07,445.67 L171.43,443.85 L171.79,442.04 L172.16,440.22 L172.53,438.41 L172.90,436.60 L173.28,434.79 L173.66,432.99 L174.05,431.18 L174.43,429.38 L174.82,427.58 L175.22,425.78 L175.61,423.98 L176.01,422.19 L176.42,420.40 L176.82,418.60 L177.23,416.82 L177.65,415.03 L178.06,413.24 L178.48,411.46 L178.91,409.68 L179.33,407.90 L179.76,406.12 L180.20,404.35 L180.63,402.57 L181.07,400.80 L181.52,399.04 L181.96,397.27 L182.41,395.50 L182.87,393.74 L183.32,391.98 L183.78,390.23 L184.24,388.47 L184.71,386.72 L185.18,384.97 L185.65,383.22 L186.13,381.47 L186.61,379.73 L187.09,377.99 L187.58,376.25 L188.06,374.51 L188.56,372.78 L189.05,371.04 L189.55,369.31 L190.05,367.59 L190.56,365.86 L191.07,364.14 L191.58,362.42 L192.10,360.70 L192.62,358.99 L193.14,357.28 L193.66,355.57 L194.19,353.86 L194.72,352.16 L195.26,350.46 L195.80,348.76 L196.34,347.06 L196.88,345.37 L197.43,343.68 L197.98,341.99 L198.54,340.31 L199.10,338.62 L199.66,336.94 L200.22,335.27 L200.79,333.59 L201.36,331.92 L201.94,330.25 L202.52,328.59 L203.10,326.93 L203.68,325.27 L204.27,323.61 L204.86,321.96 L205.46,320.30 L206.05,318.66 L206.66,317.01 L207.26,315.37 L207.87,313.73 L208.48,312.10 L209.09,310.46 L209.71,308.84 L210.33,307.21 L210.96,305.59 L211.58,303.97 L212.21,302.35 L212.85,300.74 L213.49,299.13 L214.13,297.52 L214.77,295.92 L215.42,294.32 L216.07,292.72 L216.72,291.13 L217.38,289.54 L218.04,287.95 L218.70,286.36 L219.37,284.78 L220.04,283.21 L220.71,281.64 L221.39,280.07 L222.07,278.50 L222.76,276.94 L223.44,275.38 L224.13,273.82 L224.83,272.27 L225.52,270.72 L226.22,269.18 L226.93,267.64 L227.63,266.10 L228.34,264.56 L229.05,263.03 L229.77,261.51 L230.49,259.99 L231.21,258.47 L231.94,256.95 L232.67,255.44 L233.40,253.93 L234.14,252.43 L234.88,250.93 L235.62,249.43 L236.37,247.94 L237.12,246.46 L237.87,244.97 L238.63,243.49 L239.38,242.02 L240.15,240.54 L240.91,239.08 L241.68,237.61 L242.45,236.15 L243.23,234.70 L244.01,233.25 L244.79,231.80 L245.58,230.36 L246.37,228.92 L247.16,227.48 L247.95,226.05 L248.75,224.63 L249.55,223.21 L250.36,221.79 L251.17,220.38 L251.98,218.97 L252.80,217.56 L253.61,216.17 L254.44,214.77 L255.26,213.38 L256.09,211.99 L256.92,210.61 L257.76,209.23 L258.59,207.86 L259.44,206.49 L260.28,205.13 L261.13,203.77 L261.98,202.42 L262.84,201.07 L263.69,199.73 L264.56,198.39 L265.42,197.05 L266.29,195.72 L267.16,194.40 L268.03,193.08 L268.91,191.76 L269.79,190.45 L270.68,189.14 L271.56,187.84 L272.46,186.55 L273.35,185.26 L274.25,183.97 L275.15,182.69 L276.05,181.42 L276.96,180.15 L277.87,178.88 L278.79,177.62 L279.70,176.37 L280.62,175.12 L281.55,173.87 L282.47,172.63 L283.41,171.40 L284.34,170.17 L285.28,168.95 L286.22,167.73 L287.16,166.52 L288.11,165.31 L289.06,164.11 L290.01,162.92 L290.97,161.73 L291.93,160.54 L292.89,159.36 L293.86,158.19 L294.83,157.02 L295.80,155.86 L296.78,154.70 L297.76,153.55 L298.74,152.41 L299.73,151.27 L300.72,150.14 L301.71,149.01 L302.71,147.89 L303.71,146.77 L304.71,145.66 L305.72,144.56 L306.73,143.46 L307.74,142.37 L308.76,141.29 L309.77,140.21 L310.80,139.13 L311.82,138.07 L312.85,137.01 L313.89,135.95 L314.92,134.91 L315.96,133.86 L317.00,132.83 L318.05,131.80 L319.10,130.78 L320.15,129.76 L321.21,128.75 L322.27,127.75 L323.33,126.75 L324.39,125.76 L325.46,124.78 L326.53,123.80 L327.61,122.83 L328.69,121.87 L329.77,120.91 L330.86,119.96 L331.94,119.02 L333.04,118.09 L334.13,117.16 L335.23,116.23 L336.33,115.32 L337.44,114.41 L338.55,113.51 L339.66,112.62 L340.77,111.73 L341.89,110.85 L343.01,109.98 L344.14,109.11 L345.27,108.26 L346.40,107.41 L347.53,106.56 L348.67,105.73 L349.81,104.90 L350.96,104.08 L352.10,103.27 L353.26,102.46 L354.41,101.66 L355.57,100.87 L356.73,100.09 L357.89,99.31 L359.06,98.55 L360.23,97.79 L361.41,97.04 L362.58,96.29 L363.76,95.56 L364.95,94.83 L366.14,94.11 L367.33,93.40 L368.52,92.70 L369.72,92.00 L370.92,91.31 L372.12,90.64 L373.33,89.97 L374.54,89.30 L375.75,88.65 L376.97,88.01 L378.19,87.37 L379.42,86.74 L380.64,86.12 L381.87,85.51 L383.11,84.91 L384.34,84.32 L385.58,83.73 L386.83,83.16 L388.07,82.59 L389.32,82.03 L390.58,81.48 L391.83,80.94 L393.09,80.41 L394.36,79.89 L395.62,79.38 L396.89,78.88 L398.17,78.38 L399.44,77.90 L400.72,77.43 L402.01,76.96 L403.29,76.51 L404.58,76.06 L405.87,75.62 L407.17,75.20 L408.47,74.78 L409.77,74.37 L411.08,73.98 L412.39,73.59 L413.70,73.21 L415.02,72.84 L416.34,72.49 L417.66,72.14 L418.98,71.80 L420.31,71.48 L421.65,71.16 L422.98,70.86 L424.32,70.56 L425.66,70.28 L427.01,70.01 L428.36,69.74 L429.71,69.49 L431.07,69.25 L432.42,69.02 L433.79,68.80 L435.15,68.59 L436.52,68.40 L437.89,68.21 L439.27,68.04 L440.65,67.87 L442.03,67.72 L443.41,67.58 L444.80,67.45 L446.19,67.34 L447.59,67.23 L448.99,67.14 L450.39,67.06 L451.79,66.99 L453.20,66.93 L454.61,66.89 L456.03,66.85 L457.44,66.83 L458.87,66.83 L460.29,66.83 L461.72,66.85 L463.15,66.88 L464.58,66.92 L466.02,66.97 L467.46,67.04 L468.91,67.12 L470.36,67.22 L471.81,67.33 L473.26,67.45 L474.72,67.58 L476.18,67.73 L477.64,67.89 L479.11,68.06 L480.58,68.25 L482.06,68.46 L483.53,68.67 L485.01,68.90 L486.50,69.15 L487.98,69.41 L489.48,69.68 L490.97,69.97 L492.47,70.28 L493.97,70.59 L495.47,70.93 L496.98,71.27 L498.49,71.64 L500.00,72.02 L501.52,72.41 L503.04,72.82 L504.56,73.24 L506.09,73.68 L507.62,74.14 L509.15,74.61 L510.69,75.10 L512.23,75.61 L513.77,76.13 L515.32,76.67 L516.87,77.22 L518.42,77.79 L519.98,78.38 L521.54,78.99 L523.10,79.61 L524.67,80.25 L526.24,80.91 L527.81,81.59 L529.39,82.28 L530.96,82.99 L532.55,83.72 L534.13,84.47 L535.72,85.24 L537.32,86.03 L538.91,86.83 L540.51,87.66 L542.11,88.50 L543.72,89.36 L545.33,90.25 L546.94,91.15 L548.56,92.07 L550.17,93.02 L551.80,93.98 L553.42,94.97 L555.05,95.97 L556.68,97.00 L558.32,98.05 L559.96,99.12 L561.60,100.21" fill="none" stroke="#e8513e" stroke-width="5.4" stroke-linejoin="round" stroke-linecap="butt"/>
<path d="M561.60,100.21 L563.24,99.12 L564.88,98.05 L566.52,97.00 L568.15,95.97 L569.78,94.97 L571.40,93.98 L573.03,93.02 L574.64,92.07 L576.26,91.15 L577.87,90.25 L579.48,89.36 L581.09,88.50 L582.69,87.66 L584.29,86.83 L585.88,86.03 L587.48,85.24 L589.07,84.47 L590.65,83.72 L592.24,82.99 L593.81,82.28 L595.39,81.59 L596.96,80.91 L598.53,80.25 L600.10,79.61 L601.66,78.99 L603.22,78.38 L604.78,77.79 L606.33,77.22 L607.88,76.67 L609.43,76.13 L610.97,75.61 L612.51,75.10 L614.05,74.61 L615.58,74.14 L617.11,73.68 L618.64,73.24 L620.16,72.82 L621.68,72.41 L623.20,72.02 L624.71,71.64 L626.22,71.27 L627.73,70.93 L629.23,70.59 L630.73,70.28 L632.23,69.97 L633.72,69.68 L635.22,69.41 L636.70,69.15 L638.19,68.90 L639.67,68.67 L641.14,68.46 L642.62,68.25 L644.09,68.06 L645.56,67.89 L647.02,67.73 L648.48,67.58 L649.94,67.45 L651.39,67.33 L652.84,67.22 L654.29,67.12 L655.74,67.04 L657.18,66.97 L658.62,66.92 L660.05,66.88 L661.48,66.85 L662.91,66.83 L664.33,66.83 L665.76,66.83 L667.17,66.85 L668.59,66.89 L670.00,66.93 L671.41,66.99 L672.81,67.06 L674.21,67.14 L675.61,67.23 L677.01,67.34 L678.40,67.45 L679.79,67.58 L681.17,67.72 L682.55,67.87 L683.93,68.04 L685.31,68.21 L686.68,68.40 L688.05,68.59 L689.41,68.80 L690.78,69.02 L692.13,69.25 L693.49,69.49 L694.84,69.74 L696.19,70.01 L697.54,70.28 L698.88,70.56 L700.22,70.86 L701.55,71.16 L702.89,71.48 L704.22,71.80 L705.54,72.14 L706.86,72.49 L708.18,72.84 L709.50,73.21 L710.81,73.59 L712.12,73.98 L713.43,74.37 L714.73,74.78 L716.03,75.20 L717.33,75.62 L718.62,76.06 L719.91,76.51 L721.19,76.96 L722.48,77.43 L723.76,77.90 L725.03,78.38 L726.31,78.88 L727.58,79.38 L728.84,79.89 L730.11,80.41 L731.37,80.94 L732.62,81.48 L733.88,82.03 L735.13,82.59 L736.37,83.16 L737.62,83.73 L738.86,84.32 L740.09,84.91 L741.33,85.51 L742.56,86.12 L743.78,86.74 L745.01,87.37 L746.23,88.01 L747.45,88.65 L748.66,89.30 L749.87,89.97 L751.08,90.64 L752.28,91.31 L753.48,92.00 L754.68,92.70 L755.87,93.40 L757.06,94.11 L758.25,94.83 L759.44,95.56 L760.62,96.29 L761.79,97.04 L762.97,97.79 L764.14,98.55 L765.31,99.31 L766.47,100.09 L767.63,100.87 L768.79,101.66 L769.94,102.46 L771.10,103.27 L772.24,104.08 L773.39,104.90 L774.53,105.73 L775.67,106.56 L776.80,107.41 L777.93,108.26 L779.06,109.11 L780.19,109.98 L781.31,110.85 L782.43,111.73 L783.54,112.62 L784.65,113.51 L785.76,114.41 L786.87,115.32 L787.97,116.23 L789.07,117.16 L790.16,118.09 L791.26,119.02 L792.34,119.96 L793.43,120.91 L794.51,121.87 L795.59,122.83 L796.67,123.80 L797.74,124.78 L798.81,125.76 L799.87,126.75 L800.93,127.75 L801.99,128.75 L803.05,129.76 L804.10,130.78 L805.15,131.80 L806.20,132.83 L807.24,133.86 L808.28,134.91 L809.31,135.95 L810.35,137.01 L811.38,138.07 L812.40,139.13 L813.43,140.21 L814.44,141.29 L815.46,142.37 L816.47,143.46 L817.48,144.56 L818.49,145.66 L819.49,146.77 L820.49,147.89 L821.49,149.01 L822.48,150.14 L823.47,151.27 L824.46,152.41 L825.44,153.55 L826.42,154.70 L827.40,155.86 L828.37,157.02 L829.34,158.19 L830.31,159.36 L831.27,160.54 L832.23,161.73 L833.19,162.92 L834.14,164.11 L835.09,165.31 L836.04,166.52 L836.98,167.73 L837.92,168.95 L838.86,170.17 L839.79,171.40 L840.73,172.63 L841.65,173.87 L842.58,175.12 L843.50,176.37 L844.41,177.62 L845.33,178.88 L846.24,180.15 L847.15,181.42 L848.05,182.69 L848.95,183.97 L849.85,185.26 L850.74,186.55 L851.64,187.84 L852.52,189.14 L853.41,190.45 L854.29,191.76 L855.17,193.08 L856.04,194.40 L856.91,195.72 L857.78,197.05 L858.64,198.39 L859.51,199.73 L860.36,201.07 L861.22,202.42 L862.07,203.77 L862.92,205.13 L863.76,206.49 L864.61,207.86 L865.44,209.23 L866.28,210.61 L867.11,211.99 L867.94,213.38 L868.76,214.77 L869.59,216.17 L870.40,217.56 L871.22,218.97 L872.03,220.38 L872.84,221.79 L873.65,223.21 L874.45,224.63 L875.25,226.05 L876.04,227.48 L876.83,228.92 L877.62,230.36 L878.41,231.80 L879.19,233.25 L879.97,234.70 L880.75,236.15 L881.52,237.61 L882.29,239.08 L883.05,240.54 L883.82,242.02 L884.57,243.49 L885.33,244.97 L886.08,246.46 L886.83,247.94 L887.58,249.43 L888.32,250.93 L889.06,252.43 L889.80,253.93 L890.53,255.44 L891.26,256.95 L891.99,258.47 L892.71,259.99 L893.43,261.51 L894.15,263.03 L894.86,264.56 L895.57,266.10 L896.27,267.64 L896.98,269.18 L897.68,270.72 L898.37,272.27 L899.07,273.82 L899.76,275.38 L900.44,276.94 L901.13,278.50 L901.81,280.07 L902.49,281.64 L903.16,283.21 L903.83,284.78 L904.50,286.36 L905.16,287.95 L905.82,289.54 L906.48,291.13 L907.13,292.72 L907.78,294.32 L908.43,295.92 L909.07,297.52 L909.71,299.13 L910.35,300.74 L910.99,302.35 L911.62,303.97 L912.24,305.59 L912.87,307.21 L913.49,308.84 L914.11,310.46 L914.72,312.10 L915.33,313.73 L915.94,315.37 L916.54,317.01 L917.15,318.66 L917.74,320.30 L918.34,321.96 L918.93,323.61 L919.52,325.27 L920.10,326.93 L920.68,328.59 L921.26,330.25 L921.84,331.92 L922.41,333.59 L922.98,335.27 L923.54,336.94 L924.10,338.62 L924.66,340.31 L925.22,341.99 L925.77,343.68 L926.32,345.37 L926.86,347.06 L927.40,348.76 L927.94,350.46 L928.48,352.16 L929.01,353.86 L929.54,355.57 L930.06,357.28 L930.58,358.99 L931.10,360.70 L931.62,362.42 L932.13,364.14 L932.64,365.86 L933.15,367.59 L933.65,369.31 L934.15,371.04 L934.64,372.78 L935.14,374.51 L935.62,376.25 L936.11,377.99 L936.59,379.73 L937.07,381.47 L937.55,383.22 L938.02,384.97 L938.49,386.72 L938.96,388.47 L939.42,390.23 L939.88,391.98 L940.33,393.74 L940.79,395.50 L941.24,397.27 L941.68,399.04 L942.13,400.80 L942.57,402.57 L943.00,404.35 L943.44,406.12 L943.87,407.90 L944.29,409.68 L944.72,411.46 L945.14,413.24 L945.55,415.03 L945.97,416.82 L946.38,418.60 L946.78,420.40 L947.19,422.19 L947.59,423.98 L947.98,425.78 L948.38,427.58 L948.77,429.38 L949.15,431.18 L949.54,432.99 L949.92,434.79 L950.30,436.60 L950.67,438.41 L951.04,440.22 L951.41,442.04 L951.77,443.85 L952.13,445.67 L952.49,447.49 L952.84,449.31 L953.19,451.13 L953.54,452.96 L953.89,454.78 L954.23,456.61 L954.56,458.44 L954.90,460.27 L955.23,462.10 L955.56,463.93 L955.88,465.77 L956.20,467.60 L956.52,469.44 L956.84,471.28 L957.15,473.12 L957.46,474.96 L957.76,476.81 L958.06,478.65 L958.36,480.50 L958.65,482.35 L958.95,484.20 L959.23,486.05 L959.52,487.90 L959.80,489.76 L960.08,491.61 L960.35,493.47 L960.63,495.33 L960.89,497.18 L961.16,499.04 L961.42,500.91 L961.68,502.77 L961.94,504.63 L962.19,506.50 L962.44,508.36 L962.68,510.23 L962.92,512.10 L963.16,513.97 L963.40,515.84 L963.63,517.71 L963.86,519.58 L964.08,521.46 L964.31,523.33 L964.53,525.21 L964.74,527.09 L964.95,528.97 L965.16,530.84 L965.37,532.73 L965.57,534.61 L965.77,536.49 L965.97,538.37 L966.16,540.26 L966.35,542.14 L966.54,544.03 L966.72,545.91 L966.90,547.80 L967.07,549.69 L967.25,551.58 L967.42,553.47 L967.58,555.36 L967.75,557.25 L967.91,559.14 L968.06,561.03 L968.21,562.93 L968.36,564.82 L968.51,566.72 L968.65,568.61 L968.79,570.51 L968.93,572.41 L969.06,574.30 L969.19,576.20 L969.32,578.10 L969.45,580.00 L969.57,581.90 L969.68,583.80 L969.80,585.70 L969.91,587.60 L970.01,589.51 L970.12,591.41 L970.22,593.31 L970.31,595.21 L970.41,597.12 L970.50,599.02 L970.59,600.93 L970.67,602.83 L970.75,604.74 L970.83,606.65 L970.90,608.55 L970.97,610.46 L971.04,612.37 L971.11,614.27 L971.17,616.18 L971.22,618.09 L971.28,620.00 L971.33,621.90 L971.38,623.81 L971.42,625.72 L971.46,627.63 L971.50,629.54 L971.54,631.45 L971.57,633.36 L971.59,635.27 L971.62,637.18 L971.64,639.09 L971.66,641.00 L971.67,642.91 L971.69,644.82 L971.69,646.73 L971.70,648.64 L971.70,650.55" fill="none" stroke="#e8513e" stroke-width="5.4" stroke-linejoin="round" stroke-linecap="butt"/>
<rect x="133.3" y="0" width="856.5" height="1" fill="#c9c9c9"/>
<rect x="133.3" y="1" width="856.5" height="0.95" fill="#9c9c9c"/>
<line x1="989.0" y1="0" x2="989.0" y2="685.7" stroke="#a8a8a8" stroke-width="1.4"/>
<line x1="151.50" y1="1.2" x2="151.50" y2="7.8" stroke="#747474" stroke-width="1.15"/>
<line x1="192.51" y1="1.2" x2="192.51" y2="5.0" stroke="#747474" stroke-width="1.15"/>
<line x1="233.52" y1="1.2" x2="233.52" y2="5.0" stroke="#747474" stroke-width="1.15"/>
<line x1="274.53" y1="1.2" x2="274.53" y2="5.0" stroke="#747474" stroke-width="1.15"/>
<line x1="315.54" y1="1.2" x2="315.54" y2="5.0" stroke="#747474" stroke-width="1.15"/>
<line x1="356.55" y1="1.2" x2="356.55" y2="7.8" stroke="#747474" stroke-width="1.15"/>
<line x1="397.56" y1="1.2" x2="397.56" y2="5.0" stroke="#747474" stroke-width="1.15"/>
<line x1="438.57" y1="1.2" x2="438.57" y2="5.0" stroke="#747474" stroke-width="1.15"/>
<line x1="479.58" y1="1.2" x2="479.58" y2="5.0" stroke="#747474" stroke-width="1.15"/>
<line x1="520.59" y1="1.2" x2="520.59" y2="5.0" stroke="#747474" stroke-width="1.15"/>
<line x1="561.60" y1="1.2" x2="561.60" y2="7.8" stroke="#747474" stroke-width="1.15"/>
<line x1="602.61" y1="1.2" x2="602.61" y2="5.0" stroke="#747474" stroke-width="1.15"/>
<line x1="643.62" y1="1.2" x2="643.62" y2="5.0" stroke="#747474" stroke-width="1.15"/>
<line x1="684.63" y1="1.2" x2="684.63" y2="5.0" stroke="#747474" stroke-width="1.15"/>
<line x1="725.64" y1="1.2" x2="725.64" y2="5.0" stroke="#747474" stroke-width="1.15"/>
<line x1="766.65" y1="1.2" x2="766.65" y2="7.8" stroke="#747474" stroke-width="1.15"/>
<line x1="807.66" y1="1.2" x2="807.66" y2="5.0" stroke="#747474" stroke-width="1.15"/>
<line x1="848.67" y1="1.2" x2="848.67" y2="5.0" stroke="#747474" stroke-width="1.15"/>
<line x1="889.68" y1="1.2" x2="889.68" y2="5.0" stroke="#747474" stroke-width="1.15"/>
<line x1="930.69" y1="1.2" x2="930.69" y2="5.0" stroke="#747474" stroke-width="1.15"/>
<line x1="971.70" y1="1.2" x2="971.70" y2="7.8" stroke="#747474" stroke-width="1.15"/>
<line x1="981.90" y1="650.55" x2="988.9" y2="650.55" stroke="#747474" stroke-width="1.15"/>
<line x1="984.60" y1="611.63" x2="988.9" y2="611.63" stroke="#747474" stroke-width="1.15"/>
<line x1="984.60" y1="572.72" x2="988.9" y2="572.72" stroke="#747474" stroke-width="1.15"/>
<line x1="984.60" y1="533.80" x2="988.9" y2="533.80" stroke="#747474" stroke-width="1.15"/>
<line x1="981.90" y1="494.89" x2="988.9" y2="494.89" stroke="#747474" stroke-width="1.15"/>
<line x1="984.60" y1="455.97" x2="988.9" y2="455.97" stroke="#747474" stroke-width="1.15"/>
<line x1="984.60" y1="417.06" x2="988.9" y2="417.06" stroke="#747474" stroke-width="1.15"/>
<line x1="984.60" y1="378.14" x2="988.9" y2="378.14" stroke="#747474" stroke-width="1.15"/>
<line x1="981.90" y1="339.23" x2="988.9" y2="339.23" stroke="#747474" stroke-width="1.15"/>
<line x1="984.60" y1="300.31" x2="988.9" y2="300.31" stroke="#747474" stroke-width="1.15"/>
<line x1="984.60" y1="261.40" x2="988.9" y2="261.40" stroke="#747474" stroke-width="1.15"/>
<line x1="984.60" y1="222.48" x2="988.9" y2="222.48" stroke="#747474" stroke-width="1.15"/>
<line x1="981.90" y1="183.57" x2="988.9" y2="183.57" stroke="#747474" stroke-width="1.15"/>
<line x1="984.60" y1="144.65" x2="988.9" y2="144.65" stroke="#747474" stroke-width="1.15"/>
<line x1="984.60" y1="105.74" x2="988.9" y2="105.74" stroke="#747474" stroke-width="1.15"/>
<line x1="984.60" y1="66.83" x2="988.9" y2="66.83" stroke="#747474" stroke-width="1.15"/>
<line x1="981.90" y1="27.91" x2="988.9" y2="27.91" stroke="#747474" stroke-width="1.15"/>
<line x1="151.50" y1="684.45" x2="151.50" y2="678.15" stroke="#000" stroke-width="2.4"/>
<line x1="192.51" y1="684.45" x2="192.51" y2="680.85" stroke="#000" stroke-width="2.3"/>
<line x1="233.52" y1="684.45" x2="233.52" y2="680.85" stroke="#000" stroke-width="2.3"/>
<line x1="274.53" y1="684.45" x2="274.53" y2="680.85" stroke="#000" stroke-width="2.3"/>
<line x1="315.54" y1="684.45" x2="315.54" y2="680.85" stroke="#000" stroke-width="2.3"/>
<line x1="356.55" y1="684.45" x2="356.55" y2="678.15" stroke="#000" stroke-width="2.4"/>
<line x1="397.56" y1="684.45" x2="397.56" y2="680.85" stroke="#000" stroke-width="2.3"/>
<line x1="438.57" y1="684.45" x2="438.57" y2="680.85" stroke="#000" stroke-width="2.3"/>
<line x1="479.58" y1="684.45" x2="479.58" y2="680.85" stroke="#000" stroke-width="2.3"/>
<line x1="520.59" y1="684.45" x2="520.59" y2="680.85" stroke="#000" stroke-width="2.3"/>
<line x1="561.60" y1="684.45" x2="561.60" y2="678.15" stroke="#000" stroke-width="2.4"/>
<line x1="602.61" y1="684.45" x2="602.61" y2="680.85" stroke="#000" stroke-width="2.3"/>
<line x1="643.62" y1="684.45" x2="643.62" y2="680.85" stroke="#000" stroke-width="2.3"/>
<line x1="684.63" y1="684.45" x2="684.63" y2="680.85" stroke="#000" stroke-width="2.3"/>
<line x1="725.64" y1="684.45" x2="725.64" y2="680.85" stroke="#000" stroke-width="2.3"/>
<line x1="766.65" y1="684.45" x2="766.65" y2="678.15" stroke="#000" stroke-width="2.4"/>
<line x1="807.66" y1="684.45" x2="807.66" y2="680.85" stroke="#000" stroke-width="2.3"/>
<line x1="848.67" y1="684.45" x2="848.67" y2="680.85" stroke="#000" stroke-width="2.3"/>
<line x1="889.68" y1="684.45" x2="889.68" y2="680.85" stroke="#000" stroke-width="2.3"/>
<line x1="930.69" y1="684.45" x2="930.69" y2="680.85" stroke="#000" stroke-width="2.3"/>
<line x1="971.70" y1="684.45" x2="971.70" y2="678.15" stroke="#000" stroke-width="2.4"/>
<line x1="134.65" y1="650.55" x2="141.25" y2="650.55" stroke="#000" stroke-width="2.4"/>
<line x1="134.65" y1="611.63" x2="138.55" y2="611.63" stroke="#000" stroke-width="2.3"/>
<line x1="134.65" y1="572.72" x2="138.55" y2="572.72" stroke="#000" stroke-width="2.3"/>
<line x1="134.65" y1="533.80" x2="138.55" y2="533.80" stroke="#000" stroke-width="2.3"/>
<line x1="134.65" y1="494.89" x2="141.25" y2="494.89" stroke="#000" stroke-width="2.4"/>
<line x1="134.65" y1="455.97" x2="138.55" y2="455.97" stroke="#000" stroke-width="2.3"/>
<line x1="134.65" y1="417.06" x2="138.55" y2="417.06" stroke="#000" stroke-width="2.3"/>
<line x1="134.65" y1="378.14" x2="138.55" y2="378.14" stroke="#000" stroke-width="2.3"/>
<line x1="134.65" y1="339.23" x2="141.25" y2="339.23" stroke="#000" stroke-width="2.4"/>
<line x1="134.65" y1="300.31" x2="138.55" y2="300.31" stroke="#000" stroke-width="2.3"/>
<line x1="134.65" y1="261.40" x2="138.55" y2="261.40" stroke="#000" stroke-width="2.3"/>
<line x1="134.65" y1="222.48" x2="138.55" y2="222.48" stroke="#000" stroke-width="2.3"/>
<line x1="134.65" y1="183.57" x2="141.25" y2="183.57" stroke="#000" stroke-width="2.4"/>
<line x1="134.65" y1="144.65" x2="138.55" y2="144.65" stroke="#000" stroke-width="2.3"/>
<line x1="134.65" y1="105.74" x2="138.55" y2="105.74" stroke="#000" stroke-width="2.3"/>
<line x1="134.65" y1="66.83" x2="138.55" y2="66.83" stroke="#000" stroke-width="2.3"/>
<line x1="134.65" y1="27.91" x2="141.25" y2="27.91" stroke="#000" stroke-width="2.4"/>
<line x1="134.65" y1="1.2" x2="134.65" y2="685.7" stroke="#000" stroke-width="2.7"/>
<rect x="133.3" y="0" width="2.7" height="1.3" fill="#5a5a5a"/>
<line x1="133.3" y1="684.45" x2="990" y2="684.45" stroke="#000" stroke-width="2.5"/>
<g style="will-change:transform" font-family="'Liberation Sans', sans-serif" fill="#000">
<text transform="translate(128.30,660.95) scale(0.975,1.045)" font-size="33" text-anchor="end" stroke="#000" stroke-width="0.35">0.0</text>
<text transform="translate(128.30,505.29) scale(0.975,1.045)" font-size="33" text-anchor="end" stroke="#000" stroke-width="0.35">0.2</text>
<text transform="translate(128.30,349.63) scale(0.975,1.045)" font-size="33" text-anchor="end" stroke="#000" stroke-width="0.35">0.4</text>
<text transform="translate(128.30,193.97) scale(0.975,1.045)" font-size="33" text-anchor="end" stroke="#000" stroke-width="0.35">0.6</text>
<text transform="translate(128.30,38.31) scale(0.975,1.045)" font-size="33" text-anchor="end" stroke="#000" stroke-width="0.35">0.8</text>
<text transform="translate(151.90,719.90) scale(0.975,1.045)" font-size="33" text-anchor="middle" stroke="#000" stroke-width="0.35">0.0</text>
<text transform="translate(356.95,719.90) scale(0.975,1.045)" font-size="33" text-anchor="middle" stroke="#000" stroke-width="0.35">0.5</text>
<text transform="translate(562.00,719.90) scale(0.975,1.045)" font-size="33" text-anchor="middle" stroke="#000" stroke-width="0.35">1.0</text>
<g transform="translate(562.00,719.9) scale(0.975,1.045)" fill="#fff"><rect x="-22.2" y="-3.4" width="7.38" height="4.8"/><rect x="-11.55" y="-3.4" width="6.9" height="4.8"/></g>
<text transform="translate(767.05,719.90) scale(0.975,1.045)" font-size="33" text-anchor="middle" stroke="#000" stroke-width="0.35">1.5</text>
<g transform="translate(767.05,719.9) scale(0.975,1.045)" fill="#fff"><rect x="-22.2" y="-3.4" width="7.38" height="4.8"/><rect x="-11.55" y="-3.4" width="6.9" height="4.8"/></g>
<text transform="translate(972.10,719.90) scale(0.975,1.045)" font-size="33" text-anchor="middle" stroke="#000" stroke-width="0.35">2.0</text>
<text transform="translate(552.00,538.10) scale(1.0,1.025)" font-size="33" text-anchor="start" stroke="#000" stroke-width="0.3">HS</text>
<text transform="translate(552.00,598.20) scale(1.0,1.025)" font-size="33" text-anchor="start" stroke="#000" stroke-width="0.3">BH</text>
<text transform="translate(552.00,658.10) scale(1.0,1.025)" font-size="33" text-anchor="start" stroke="#000" stroke-width="0.3">Pure</text>
<text transform="translate(11.00,324.00) scale(1.0,1.02)" font-size="41" text-anchor="start" stroke="#000" stroke-width="0.35"><tspan font-style="italic">δ</tspan>E</text>
<text transform="translate(9.50,391.60) scale(1.0,1.0)" font-size="41" text-anchor="start" font-style="italic" stroke="#000" stroke-width="0.35">ħ</text>
<text transform="translate(32.50,391.60) scale(1.0,1.0)" font-size="41" text-anchor="start" font-style="italic" stroke="#000" stroke-width="0.2">ω</text>
<text transform="translate(503.90,784.70) scale(1.0,1.025)" font-size="49" text-anchor="start" stroke="#000" stroke-width="0.4">E</text>
<text transform="translate(538.60,784.70) scale(0.95,1.0)" font-size="49" text-anchor="start" stroke="#000" stroke-width="0.4">/</text>
<text transform="translate(553.90,784.70) scale(1.0,1.0)" font-size="49" text-anchor="start" font-style="italic" stroke="#000" stroke-width="0.4">ħ</text>
<text transform="translate(581.20,784.70) scale(1.02,1.0)" font-size="49" text-anchor="start" font-style="italic" stroke="#000" stroke-width="0.25">ω</text>
</g>
<line x1="6.7" y1="340.8" x2="63" y2="340.8" stroke="#000" stroke-width="3.8"/>
<line x1="504.2" y1="531.2" x2="531" y2="531.2" stroke="#587de5" stroke-width="5.4"/>
<line x1="504.2" y1="590.9" x2="531" y2="590.9" stroke="#f79b15" stroke-width="5.4"/>
<line x1="504.2" y1="650.6" x2="531" y2="650.6" stroke="#e8513e" stroke-width="5.4"/>
</svg>
</body></html>
